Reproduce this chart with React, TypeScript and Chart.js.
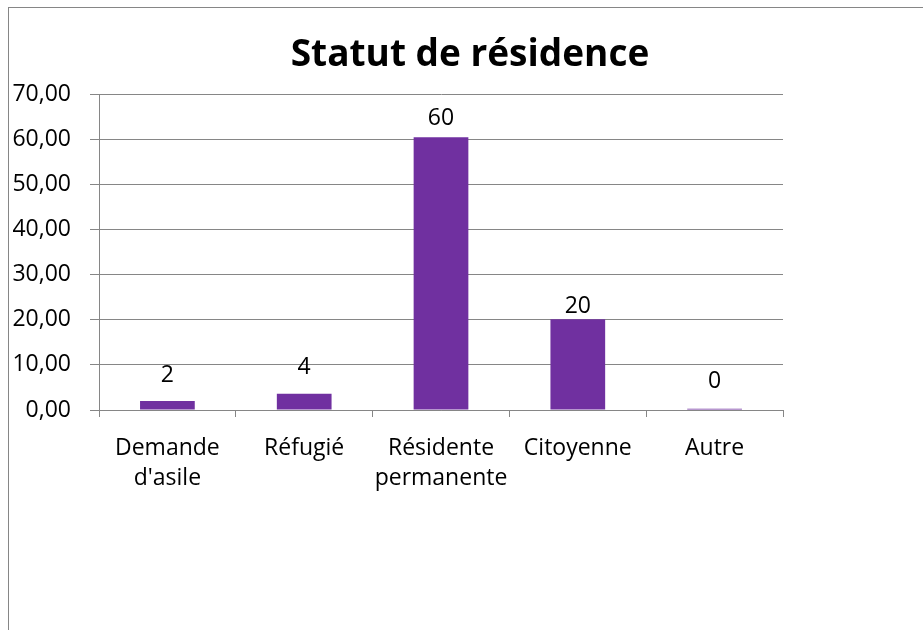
import React, { useEffect, useRef } from "react";
import { Chart, registerables } from "chart.js";

Chart.register(...registerables);

// ---- data ----
const chartTitle = "Statut de résidence";
const categories: (string | string[])[] = [
  ["Demande", "d'asile"],
  "Réfugié",
  ["Résidente", "permanente"],
  "Citoyenne",
  "Autre",
];
const values = [2.0, 3.6, 60.4, 20.1, 0.3];
const valueLabels = ["2", "4", "60", "20", "0"];
const yMin = 0;
const yMax = 70;
const yStep = 10;

// ---- style ----
const FONT = "'Open Sans', 'Noto Sans', sans-serif";
const GRID = "#868686";
const BAR = "#7030A0";
const labelGaps = [26, 26, 19, 13, 27];

const decoPlugin = {
  id: "deco",
  beforeDraw(chart: any) {
    const ctx = chart.ctx;
    ctx.save();
    ctx.fillStyle = "#ffffff";
    ctx.fillRect(0, 0, chart.width, chart.height);
    ctx.strokeStyle = GRID;
    ctx.lineWidth = 1;
    ctx.strokeRect(0.5, 0.5, chart.width + 20, chart.height + 20);
    ctx.restore();
  },
  afterDraw(chart: any) {
    const ctx = chart.ctx;
    ctx.save();
    ctx.fillStyle = "#000000";
    ctx.textAlign = "center";
    ctx.textBaseline = "alphabetic";
    ctx.font = `bold 37px ${FONT}`;
    ctx.fillText(chartTitle, chart.width / 2, 59);
    ctx.font = `23px ${FONT}`;
    ctx.textBaseline = "middle";
    const meta = chart.getDatasetMeta(0);
    meta.data.forEach((bar: any, i: number) => {
      ctx.fillText(valueLabels[i], bar.x, bar.y - labelGaps[i]);
    });
    ctx.restore();
  },
};

export default function App() {
  const ref = useRef<HTMLCanvasElement | null>(null);
  useEffect(() => {
    if (!ref.current) return;
    const chart = new Chart(ref.current, {
      type: "bar",
      data: {
        labels: categories,
        datasets: [
          {
            data: values,
            backgroundColor: BAR,
            borderWidth: 0,
            barPercentage: 1,
            categoryPercentage: 0.4,
          },
        ],
      },
      options: {
        animation: false,
        responsive: false,
        devicePixelRatio: 1,
        layout: { padding: { top: 87, right: 149, bottom: 137, left: 0 } },
        plugins: {
          legend: { display: false },
          title: { display: false },
          tooltip: { enabled: false },
        },
        scales: {
          x: {
            afterFit: (s: any) => {
              s.height = 100;
            },
            grid: {
              offset: true,
              drawOnChartArea: false,
              color: GRID,
              tickLength: 7,
            },
            border: { display: true, color: GRID },
            ticks: {
              color: "#000000",
              font: { family: FONT, size: 23, lineHeight: 1.3 },
              padding: 17,
              maxRotation: 0,
              autoSkip: false,
            },
          },
          y: {
            min: yMin,
            max: yMax,
            afterFit: (s: any) => {
              s.width = 91;
            },
            grid: { color: GRID, tickLength: 9 },
            border: { display: true, color: GRID },
            ticks: {
              stepSize: yStep,
              color: "#000000",
              font: { family: FONT, size: 23 },
              padding: 19,
              callback: (v: any) => Number(v).toFixed(2).replace(".", ","),
            },
          },
        },
      },
      plugins: [decoPlugin],
    });
    return () => chart.destroy();
  }, []);
  return (
    <div
      style={{
        position: "fixed",
        left: 8,
        top: 7,
        width: 915,
        height: 623,
        overflow: "hidden",
        background: "#fff",
      }}
    >
      <canvas ref={ref} width={924} height={640} style={{ width: 924, height: 640, display: "block" }} />
    </div>
  );
}
